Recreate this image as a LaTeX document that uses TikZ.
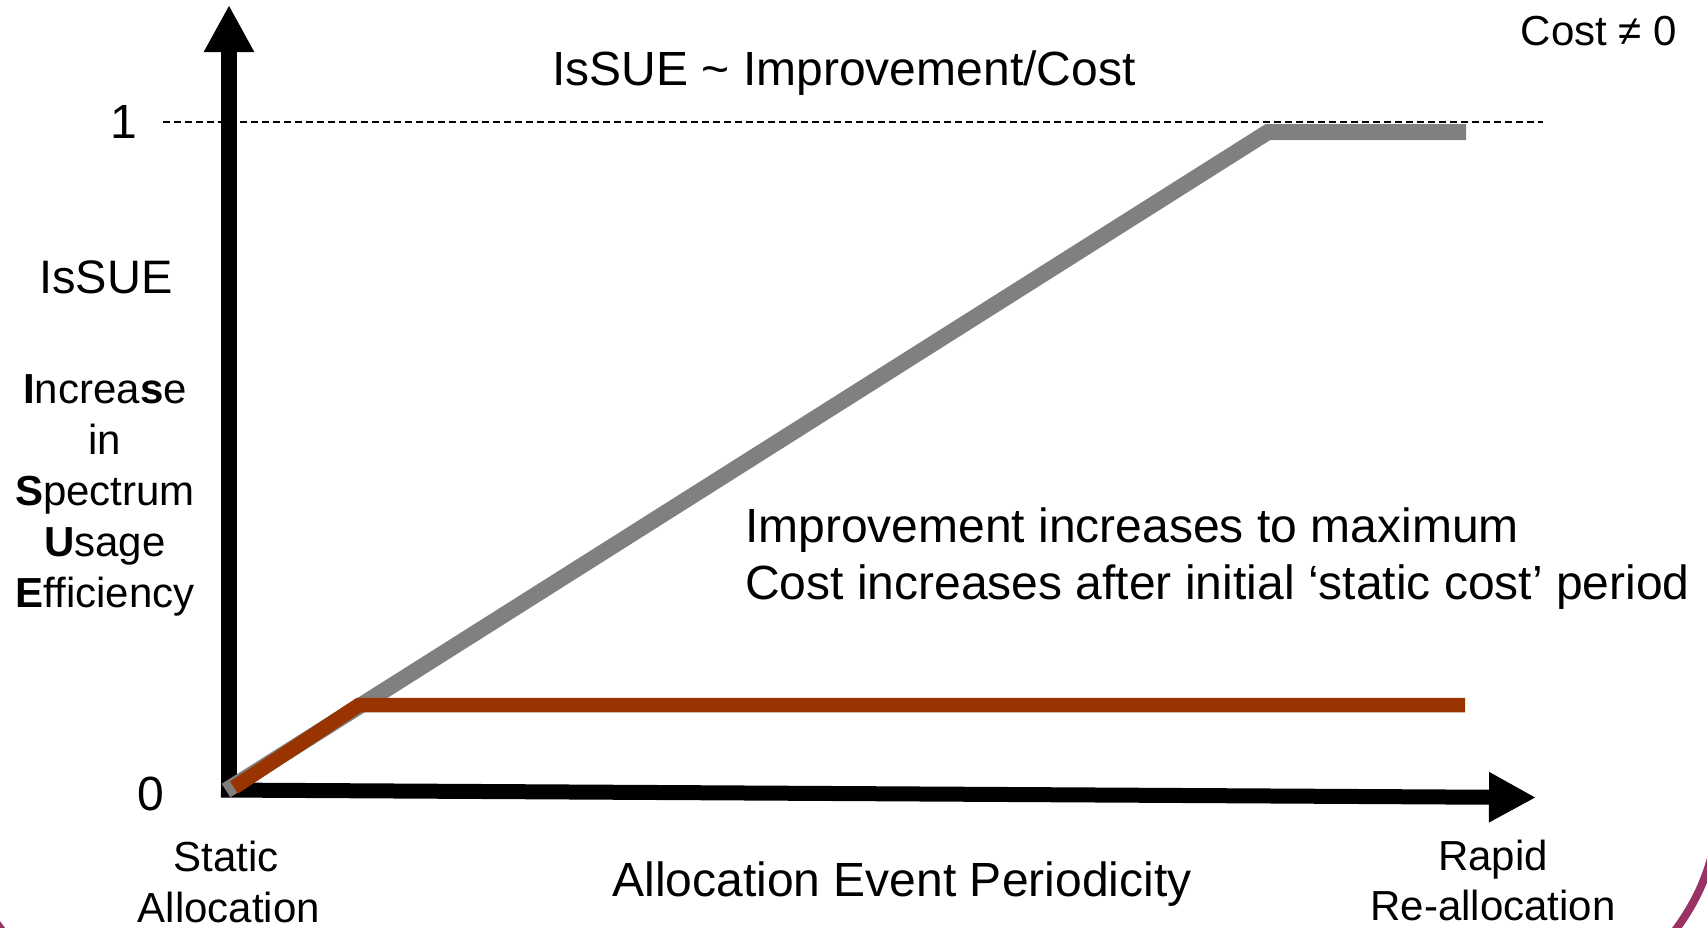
\documentclass[tikz,border=0pt]{standalone}
\usepackage{fontspec}
\setmainfont{Liberation Sans}
\usetikzlibrary{arrows.meta}
\definecolor{rust}{RGB}{153,51,0}
\definecolor{greyline}{RGB}{128,128,128}
\definecolor{framecol}{RGB}{153,51,102}
\begin{document}
\begin{tikzpicture}[x=1pt,y=-1pt,
  txtL/.style={font=\fontsize{48}{58}\selectfont, inner sep=0pt, anchor=base},
  txtM/.style={font=\fontsize{42}{50}\selectfont, inner sep=0pt, anchor=base},
  axisline/.style={black, -{Triangle[width=47pt,length=47pt]}},
  plotline/.style={line width=16pt, line join=miter},
  framearc/.style={framecol, line width=8pt},
]
\useasboundingbox (0,0) rectangle (1707,927);
\fill[white] (0,0) rectangle (1707,927);
\begin{scope}
  \clip (0,0) rectangle (1707,927);
  \draw[framearc] (1716,840) .. controls (1706,880) and (1696,905) .. (1664,945);
  \draw[framearc] (-22,903) .. controls (-8,917) .. (6,936);
\end{scope}

% coordinates
\coordinate (yb) at (229,797);
\coordinate (yt) at (229,5);
\coordinate (xb) at (221,790);
\coordinate (xt) at (1536,797.5);
\coordinate (g0) at (226,790.5);
\coordinate (gk) at (1268,132);
\coordinate (g1) at (1466,132);
\coordinate (b0) at (234,787.5);
\coordinate (bk) at (359,705);
\coordinate (b1) at (1465,705);
\coordinate (d0) at (163,121.7);
\coordinate (d1) at (1543,121.7);

% axes
\draw[axisline, line width=16pt] (yb) -- (yt);
\draw[axisline, line width=15pt] (xb) -- (xt);

% dashed max line
\draw[black, line width=2pt, dash pattern=on 7pt off 4pt] (d0) -- (d1);

% curves
\draw[plotline, greyline] (g0) -- (gk) -- (g1);
\draw[plotline, rust, line width=14.5pt] (b0) -- (bk) -- (b1);

% texts
\node[txtL] (title) at (844,85) {IsSUE \textasciitilde{} Improvement/Cost};
\node[txtM, anchor=base east] (cost) at (1677,45) {Cost ≠ 0};
\node[txtL] (one) at (124,138) {1};
\node[txtL] (zero) at (151,810) {0};
\node[txtL, font=\fontsize{47}{56}\selectfont] (issue) at (106,293) {IsSUE};

\node[txtM] (l1) at (105,403) {\textbf{I}ncrea\textbf{s}e};
\node[txtM] (l2) at (105,454) {in};
\node[txtM] (l3) at (105,505) {\textbf{S}pectrum};
\node[txtM] (l4) at (105,556) {\textbf{U}sage};
\node[txtM] (l5) at (105,607) {\textbf{E}fficiency};

\node[txtL, anchor=base west] (imp1) at (745,542) {Improvement increases to maximum};
\node[txtL, anchor=base west] (imp2) at (745,599) {Cost increases after initial ‘static cost’ period};

\node[txtM] (st1) at (226,871) {Static};
\node[txtM] (st2) at (229,922) {Allocation};
\node[txtL] (xlab) at (902,896) {Allocation Event Periodicity};
\node[txtM] (rp1) at (1493,870) {Rapid};
\node[txtM] (rp2) at (1493,920) {Re-allocation};
\end{tikzpicture}
\end{document}
